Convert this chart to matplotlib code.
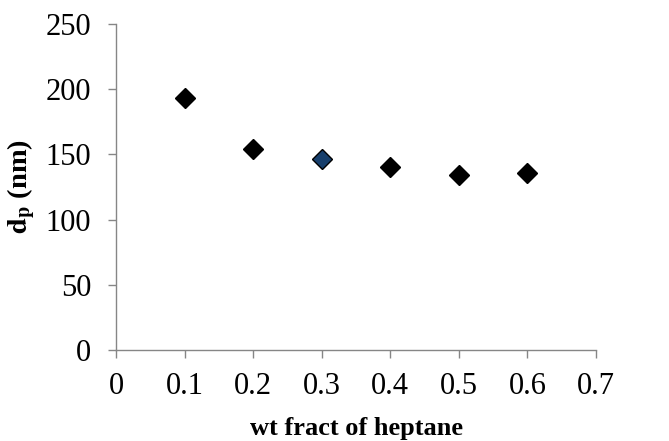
import matplotlib
matplotlib.use("Agg")
import matplotlib.pyplot as plt

# data
wt_frac = [0.1, 0.2, 0.3, 0.4, 0.5, 0.6]
dp_nm = [193.0, 154.4, 146.2, 140.6, 134.0, 135.5]
face_colors = ["black", "black", "#173F6C", "black", "black", "black"]

x_ticks = [0, 0.1, 0.2, 0.3, 0.4, 0.5, 0.6, 0.7]
x_labels = ["0", "0.1", "0.2", "0.3", "0.4", "0.5", "0.6", "0.7"]
y_ticks = [0, 50, 100, 150, 200, 250]

plt.rcParams["font.family"] = ["Liberation Serif", "DejaVu Serif"]
plt.rcParams["mathtext.fontset"] = "stix"

fig = plt.figure(figsize=(6.69, 4.41), dpi=100)
ax = fig.add_axes([0.1734, 0.2063, 0.7175, 0.7393])

for x, y, fc in zip(wt_frac, dp_nm, face_colors):
    ax.plot(x, y, marker="D", markersize=10.5, markerfacecolor=fc,
            markeredgecolor="black", markeredgewidth=1.0, linestyle="none")

ax.set_xlim(0, 0.7)
ax.set_ylim(0, 250)
ax.set_xticks(x_ticks)
ax.set_xticklabels(x_labels)
ax.set_yticks(y_ticks)

axis_gray = "#868686"
for side in ["top", "right"]:
    ax.spines[side].set_visible(False)
for side in ["left", "bottom"]:
    ax.spines[side].set_color(axis_gray)
    ax.spines[side].set_linewidth(1.0)

ax.tick_params(axis="both", direction="out", length=5.8, width=1.0,
               color=axis_gray, labelsize=22, labelcolor="black")
ax.tick_params(axis="x", pad=10)
ax.tick_params(axis="y", pad=12)

ax.set_xlabel("wt fract of heptane", fontsize=19, fontweight="bold")
ax.set_ylabel(r"$\mathbf{d}_\mathbf{p}$ (nm)", fontsize=20.5, fontweight="bold")
ax.xaxis.set_label_coords(0.5, -0.205)
ax.yaxis.set_label_coords(-0.165, 0.5)

fig.savefig("out.png", dpi=100)
